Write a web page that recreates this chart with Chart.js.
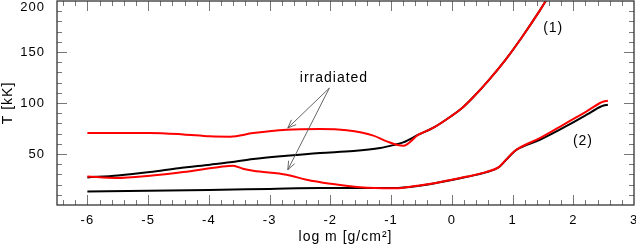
<!DOCTYPE html>
<html><head><meta charset="utf-8">
<script src="https://cdn.jsdelivr.net/npm/chart.js@4/dist/chart.umd.min.js"></script>
<style>html,body{margin:0;padding:0;background:#fff}#wrap{width:636px;height:246px;position:relative}</style>
</head><body><div id="wrap"><canvas id="c"></canvas></div>
<script>
// ---- data ----
const logmBlack1 = [-6, -5.5, -4.97, -4.5, -3.98, -3.65, -3.27, -2.72, -2.17, -1.62, -1.18, -0.96, -0.8, -0.55, -0.31, 0.0, 0.17, 0.34, 0.62, 0.89, 1.16, 1.44, 1.56, 1.62];
const tBlack1    = [27.0, 29.0, 32.3, 36.0, 39.5, 41.8, 45.1, 48.3, 51.0, 52.9, 55.9, 58.8, 61.4, 68.9, 75.5, 87.5, 95.1, 104.9, 123.2, 142.8, 165.0, 189.8, 201.3, 207.0];

const logmRed1 = [-6, -5.5, -4.97, -4.42, -3.98, -3.65, -3.27, -2.72, -2.17, -1.73, -1.29, -1.07, -0.8, -0.55, -0.31, 0.0, 0.17, 0.34, 0.62, 0.89, 1.16, 1.44, 1.56, 1.62];
const tRed1    = [70.6, 70.6, 70.6, 69.2, 67.3, 67.0, 70.5, 73.8, 74.5, 73.2, 68.0, 62.4, 58.1, 68.9, 75.5, 87.5, 95.1, 104.9, 123.2, 142.8, 165.0, 189.8, 201.3, 207.0];

const logmBlack2 = [-6, -5, -4, -3, -2.17, -1.5, -0.96, -0.53, -0.2, 0.0, 0.23, 0.56, 0.78, 0.89, 1.03, 1.12, 1.45, 1.89, 2.22, 2.44, 2.5, 2.57];
const tBlack2    = [13.3, 14.0, 14.8, 15.8, 16.6, 16.6, 16.6, 18.9, 22.2, 24.5, 27.4, 32.0, 37.2, 44.0, 52.5, 55.9, 64.0, 77.5, 88.5, 96.1, 97.5, 98.3];

const logmRed2 = [-6, -5.53, -4.97, -4.42, -3.82, -3.6, -3.44, -3.27, -2.72, -2.39, -2.0, -1.51, -0.96, -0.75, -0.53, -0.2, 0.0, 0.23, 0.56, 0.78, 0.89, 1.03, 1.12, 1.45, 1.89, 2.22, 2.44, 2.5, 2.57];
const tRed2    = [28.0, 26.5, 28.7, 32.3, 37.3, 38.5, 35.6, 33.6, 29.7, 24.8, 20.9, 17.3, 16.3, 17.3, 19.2, 22.4, 24.7, 27.6, 32.2, 37.4, 44.2, 52.7, 56.3, 65.6, 80.6, 91.8, 100.0, 101.5, 102.2];

const xTickValues = [-6, -5, -4, -3, -2, -1, 0, 1, 2, 3];
const yTickValues = [50, 100, 150, 200];
const xTitle = 'log m [g/cm\u00B2]';
const yTitle = 'T [kK]';

// annotations in data coordinates
const noteIrr = {text: 'irradiated', x: -1.94, y: 124.8};
const note1 = {text: '(1)', x: 1.67, y: 173.8};
const note2 = {text: '(2)', x: 2.16, y: 63};
const arrowFrom = [-2.015, 114.7];
const arrowTo = [[-2.70, 75.5], [-2.70, 34.6]];

const FONT = "'Liberation Sans', Arial, Helvetica, sans-serif";
const pts = (xs, ys) => xs.map((v, i) => ({x: v, y: ys[i]}));

const framePlugin = {
  id: 'frame',
  beforeDraw(chart) { chart.ctx.letterSpacing = '1px'; },
  afterDraw(chart) {
    const {ctx, chartArea: a, scales: {x, y}} = chart;
    ctx.save();
    ctx.strokeStyle = '#777';
    ctx.lineWidth = 1;
    ctx.beginPath();
    for (let k = -32; k <= 15; k++) {
      const v = k / 5;
      const px = Math.round(x.getPixelForValue(v)) + 0.5;
      if (px <= a.left + 1 || px >= a.right - 1) continue;
      const L = (k % 5 === 0) ? 10 : 5;
      ctx.moveTo(px, a.bottom); ctx.lineTo(px, a.bottom - L);
      ctx.moveTo(px, a.top); ctx.lineTo(px, a.top + L);
    }
    for (let v = 10; v < 200; v += 10) {
      const py = Math.round(y.getPixelForValue(v)) + 0.5;
      const L = (v % 50 === 0) ? 10 : 5;
      ctx.moveTo(a.left, py); ctx.lineTo(a.left + L, py);
      ctx.moveTo(a.right, py); ctx.lineTo(a.right - L, py);
    }
    ctx.stroke();
    ctx.strokeStyle = '#333';
    ctx.lineWidth = 1.3;
    ctx.strokeRect(a.left, a.top, a.right - a.left, a.bottom - a.top);
    ctx.strokeStyle = '#555';
    ctx.lineWidth = 0.9;
    const sx = x.getPixelForValue(arrowFrom[0]), sy = y.getPixelForValue(arrowFrom[1]);
    arrowTo.forEach(([ex, ey]) => {
      const px = x.getPixelForValue(ex), py = y.getPixelForValue(ey);
      const ang = Math.atan2(py - sy, px - sx);
      const hl = 9, ha = 0.38;
      ctx.beginPath();
      ctx.moveTo(sx, sy); ctx.lineTo(px, py);
      ctx.moveTo(px - hl * Math.cos(ang - ha), py - hl * Math.sin(ang - ha));
      ctx.lineTo(px, py);
      ctx.lineTo(px - hl * Math.cos(ang + ha), py - hl * Math.sin(ang + ha));
      ctx.stroke();
    });
    ctx.fillStyle = '#000';
    ctx.font = '14px ' + FONT;
    ctx.textAlign = 'center';
    ctx.textBaseline = 'middle';
    [noteIrr, note1, note2].forEach(n => {
      ctx.fillText(n.text, x.getPixelForValue(n.x), y.getPixelForValue(n.y));
    });
    ctx.restore();
  }
};

new Chart(document.getElementById('c'), {
  type: 'line',
  data: {
    datasets: [
      {data: pts(logmRed1, tRed1), borderColor: '#ff0000'},
      {data: pts(logmRed2, tRed2), borderColor: '#ff0000'},
      {data: pts(logmBlack1, tBlack1), borderColor: '#000000'},
      {data: pts(logmBlack2, tBlack2), borderColor: '#000000'}
    ]
  },
  options: {
    responsive: true,
    maintainAspectRatio: false,
    animation: false,
    devicePixelRatio: 1,
    layout: {padding: {top: 1, right: 2, left: 0, bottom: 0}, autoPadding: false},
    elements: {
      point: {radius: 0},
      line: {borderWidth: 2, cubicInterpolationMode: 'monotone', fill: false}
    },
    plugins: {legend: {display: false}, tooltip: {enabled: false}},
    scales: {
      x: {
        type: 'linear', position: 'bottom', min: -6.5, max: 3,
        grid: {display: false, drawTicks: false},
        border: {display: false},
        afterBuildTicks: s => { s.ticks = xTickValues.map(v => ({value: v})); },
        afterFit: s => { s.height = 41; s.paddingLeft = 0; s.paddingRight = 0; s.paddingTop = 0; s.paddingBottom = 0; },
        ticks: {color: '#000', font: {family: FONT, size: 13}, padding: 8, maxRotation: 0, autoSkip: false,
                callback: v => String(v)},
        title: {display: true, text: xTitle, color: '#000', font: {family: FONT, size: 14, lineHeight: 1}, padding: {top: 0, bottom: 2}}
      },
      y: {
        type: 'linear', position: 'left', min: 0, max: 200,
        grid: {display: false, drawTicks: false},
        border: {display: false},
        afterBuildTicks: s => { s.ticks = yTickValues.map(v => ({value: v})); },
        afterFit: s => { s.width = 57; s.paddingLeft = 0; s.paddingRight = 0; s.paddingTop = 0; s.paddingBottom = 0; },
        ticks: {color: '#000', font: {family: FONT, size: 13, lineHeight: 1}, padding: 12,
                callback: v => v === 200 ? ['', '200'] : String(v)},
        title: {display: true, text: yTitle, color: '#000', font: {family: FONT, size: 14, lineHeight: 1}, padding: {top: 1, bottom: 0}}
      }
    }
  },
  plugins: [framePlugin]
});
</script></body></html>
